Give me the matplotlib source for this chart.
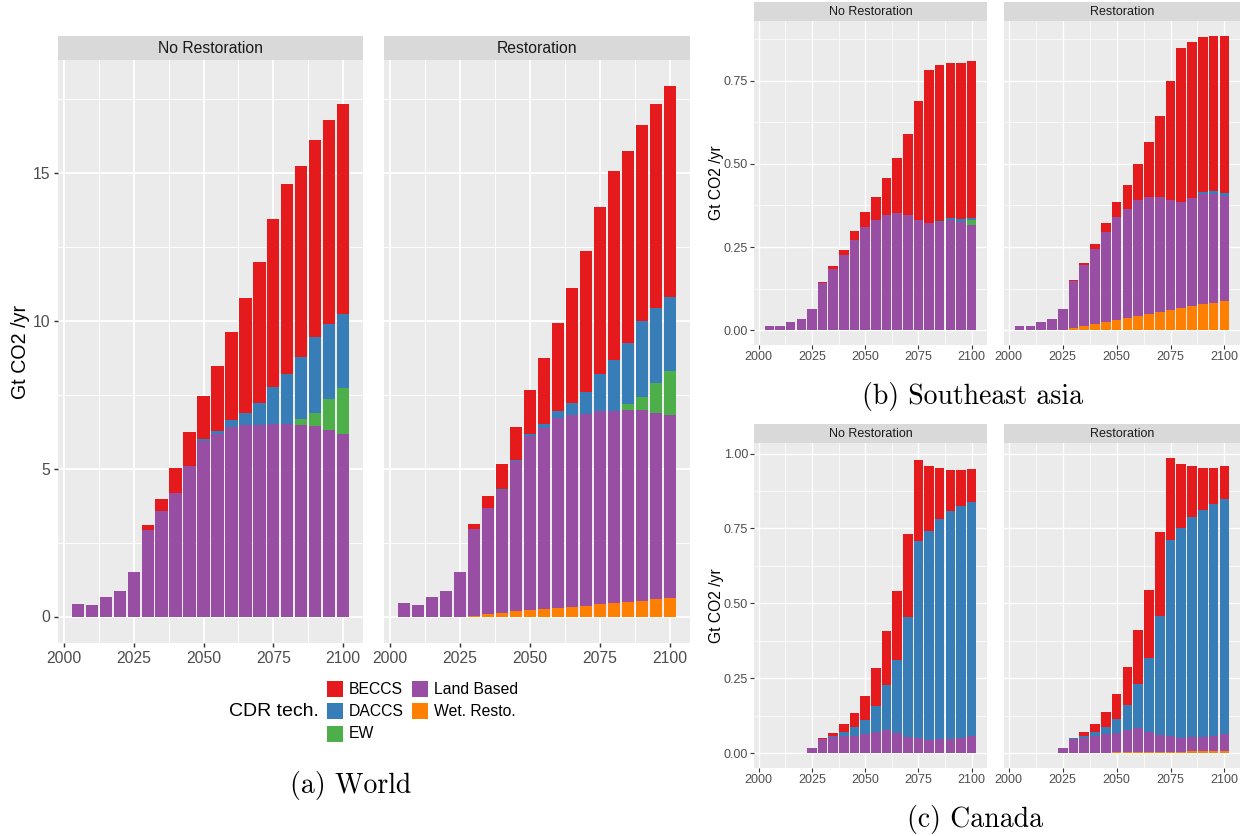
"""CDR by technology: World / Southeast asia / Canada, No Restoration vs Restoration"""
import matplotlib
matplotlib.use("Agg")
import matplotlib.pyplot as plt
import matplotlib.patches as mpatches
import numpy as np

W, H = 1244, 836
SANS = ["Liberation Sans", "DejaVu Sans"]

years = [2005, 2010, 2015, 2020, 2025, 2030, 2035, 2040, 2045, 2050,
         2055, 2060, 2065, 2070, 2075, 2080, 2085, 2090, 2095, 2100]

techs = ["BECCS", "DACCS", "EW", "Land Based", "Wet. Resto."]
tech_colors = ["#E41A1C", "#377EB8", "#4DAF4A", "#984EA3", "#FF7F00"]
facets = ["No Restoration", "Restoration"]

# ── World (Gt CO2 /yr) ──
world_nr_land = [0.43, 0.40, 0.65, 0.86, 1.50, 2.93, 3.58, 4.17, 5.07, 5.93,
                 6.17, 6.41, 6.48, 6.48, 6.50, 6.50, 6.48, 6.45, 6.31, 6.17]
world_nr_ew = [0, 0, 0, 0, 0, 0, 0, 0, 0, 0,
               0, 0, 0, 0, 0, 0, 0.21, 0.44, 1.04, 1.56]
world_nr_daccs = [0, 0, 0, 0, 0, 0, 0, 0.02, 0.03, 0.06,
                  0.11, 0.22, 0.38, 0.73, 1.25, 1.70, 2.07, 2.57, 2.55, 2.49]
world_nr_beccs = [0, 0, 0, 0, 0, 0.15, 0.38, 0.84, 1.14, 1.45,
                  2.17, 3.00, 3.90, 4.77, 5.68, 6.40, 6.47, 6.63, 6.87, 7.11]
world_nr_wet = [0] * 20

world_r_wet = [0, 0, 0, 0, 0, 0.03, 0.08, 0.11, 0.17, 0.21,
               0.25, 0.29, 0.33, 0.37, 0.41, 0.46, 0.50, 0.54, 0.58, 0.61]
world_r_land = [0.44, 0.40, 0.65, 0.86, 1.50, 2.94, 3.57, 4.17, 5.08, 5.89,
                6.13, 6.41, 6.47, 6.48, 6.52, 6.50, 6.48, 6.44, 6.28, 6.19]
world_r_ew = [0, 0, 0, 0, 0, 0, 0, 0, 0, 0,
              0, 0, 0, 0, 0, 0, 0.19, 0.44, 1.04, 1.51]
world_r_daccs = [0, 0, 0, 0, 0, 0, 0, 0.02, 0.03, 0.07,
                 0.14, 0.23, 0.41, 0.73, 1.25, 1.70, 2.07, 2.57, 2.54, 2.49]
world_r_beccs = [0, 0, 0, 0, 0, 0.16, 0.41, 0.84, 1.14, 1.50,
                 2.20, 3.00, 3.88, 4.77, 5.67, 6.41, 6.49, 6.63, 6.89, 7.11]

# ── Southeast asia ──
sea_nr_land = [0.014, 0.013, 0.024, 0.033, 0.063, 0.142, 0.185, 0.227, 0.271, 0.310,
               0.330, 0.347, 0.353, 0.346, 0.332, 0.321, 0.326, 0.330, 0.324, 0.315]
sea_nr_ew = [0] * 19 + [0.015]
sea_nr_daccs = [0] * 16 + [0.002, 0.008, 0.009, 0.006]
sea_nr_beccs = [0, 0, 0, 0, 0, 0.003, 0.007, 0.015, 0.026, 0.045,
                0.070, 0.111, 0.165, 0.245, 0.357, 0.461, 0.468, 0.465, 0.469, 0.473]
sea_nr_wet = [0] * 20

sea_r_wet = [0, 0, 0, 0, 0, 0.006, 0.012, 0.018, 0.024, 0.030,
             0.036, 0.042, 0.048, 0.054, 0.060, 0.066, 0.072, 0.078, 0.083, 0.089]
sea_r_land = [0.014, 0.013, 0.024, 0.033, 0.063, 0.142, 0.184, 0.227, 0.270, 0.309,
              0.329, 0.348, 0.351, 0.346, 0.332, 0.320, 0.324, 0.330, 0.325, 0.315]
sea_r_ew = [0] * 20
sea_r_daccs = [0] * 17 + [0.008, 0.009, 0.008]
sea_r_beccs = [0, 0, 0, 0, 0, 0.003, 0.007, 0.015, 0.028, 0.046,
               0.072, 0.110, 0.167, 0.244, 0.357, 0.461, 0.471, 0.464, 0.468, 0.472]

# ── Canada ──
can_nr_land = [0, 0, 0, 0.002, 0.018, 0.047, 0.053, 0.057, 0.059, 0.064,
               0.071, 0.079, 0.068, 0.053, 0.051, 0.044, 0.047, 0.046, 0.051, 0.057]
can_nr_ew = [0] * 20
can_nr_daccs = [0, 0, 0, 0, 0, 0.002, 0.005, 0.013, 0.028, 0.048,
                0.086, 0.148, 0.243, 0.401, 0.656, 0.699, 0.736, 0.761, 0.775, 0.783]
can_nr_beccs = [0, 0, 0, 0, 0, 0.002, 0.011, 0.026, 0.046, 0.080,
                0.129, 0.180, 0.230, 0.278, 0.273, 0.216, 0.169, 0.137, 0.118, 0.109]
can_nr_wet = [0] * 20

can_r_wet = [0, 0, 0, 0, 0, 0, 0.001, 0.002, 0.002, 0.003,
             0.003, 0.004, 0.004, 0.005, 0.005, 0.005, 0.006, 0.006, 0.007, 0.008]
can_r_land = [0, 0, 0, 0.002, 0.018, 0.048, 0.051, 0.057, 0.061, 0.064,
              0.073, 0.080, 0.068, 0.055, 0.053, 0.045, 0.048, 0.047, 0.051, 0.056]
can_r_ew = [0] * 20
can_r_daccs = [0, 0, 0, 0, 0, 0.002, 0.005, 0.012, 0.026, 0.046,
               0.084, 0.146, 0.245, 0.399, 0.655, 0.700, 0.735, 0.760, 0.775, 0.784]
can_r_beccs = [0, 0, 0, 0, 0, 0.001, 0.013, 0.027, 0.047, 0.083,
               0.129, 0.180, 0.229, 0.279, 0.273, 0.216, 0.171, 0.138, 0.118, 0.109]

world = [[world_nr_beccs, world_nr_daccs, world_nr_ew, world_nr_land, world_nr_wet],
         [world_r_beccs, world_r_daccs, world_r_ew, world_r_land, world_r_wet]]
sea = [[sea_nr_beccs, sea_nr_daccs, sea_nr_ew, sea_nr_land, sea_nr_wet],
       [sea_r_beccs, sea_r_daccs, sea_r_ew, sea_r_land, sea_r_wet]]
canada = [[can_nr_beccs, can_nr_daccs, can_nr_ew, can_nr_land, can_nr_wet],
          [can_r_beccs, can_r_daccs, can_r_ew, can_r_land, can_r_wet]]


def px(x0, y0, x1, y1):
    return [x0 / W, 1 - y1 / H, (x1 - x0) / W, (y1 - y0) / H]


def region(fig, data, cols, top, strip_top, bottom, yticks, ylabels, fs, lw, ylabel_x):
    # 공통 y 범위 (ggplot 5% 확장)
    totals = [np.sum(np.array(d, dtype=float), axis=0).max() for d in data]
    ymax = max(totals)
    ylim = (-0.05 * ymax, 1.05 * ymax)
    xlim = (2002.75 - 0.05 * 99.5, 2102.25 + 0.05 * 99.5)

    for fi, (x0, x1) in enumerate(cols):
        ax = fig.add_axes(px(x0, top, x1, bottom), facecolor="#EBEBEB")
        base = np.zeros(len(years))
        for ti in range(len(techs) - 1, -1, -1):
            vals = np.array(data[fi][ti], dtype=float)
            ax.bar(years, vals, width=4.5, bottom=base, color=tech_colors[ti], linewidth=0, zorder=3)
            base += vals
        ax.set_xlim(*xlim)
        ax.set_ylim(*ylim)
        for s in ax.spines.values():
            s.set_visible(False)
        ax.set_xticks([2000, 2025, 2050, 2075, 2100])
        ax.set_xticks([2012.5, 2037.5, 2062.5, 2087.5], minor=True)
        ax.set_yticks(yticks)
        ax.set_yticks([(a + b) / 2 for a, b in zip(yticks[:-1], yticks[1:])] + [yticks[-1] + (yticks[1] - yticks[0]) / 2], minor=True)
        ax.set_ylim(*ylim)
        ax.grid(which="major", color="white", lw=lw, zorder=0)
        ax.grid(which="minor", color="white", lw=lw / 2, zorder=0)
        ax.set_axisbelow(True)
        ax.tick_params(which="minor", length=0)
        ax.tick_params(which="major", color="#333333", length=fs * 0.28, width=lw * 0.8,
                       labelcolor="#4D4D4D", labelsize=fs, pad=fs * 0.2)
        ax.set_xticklabels(["2000", "2025", "2050", "2075", "2100"], family=SANS)
        if fi == 0:
            ax.set_yticklabels(ylabels, family=SANS)
        else:
            ax.tick_params(axis="y", left=False, labelleft=False)

        # strip
        sax = fig.add_axes(px(x0, strip_top, x1, top), facecolor="#D9D9D9")
        sax.set_xticks([]); sax.set_yticks([])
        for s in sax.spines.values():
            s.set_visible(False)
        sax.text(0.5, 0.48, facets[fi], transform=sax.transAxes, ha="center", va="center",
                 fontsize=fs, color="#1A1A1A", family=SANS)

    fig.text(ylabel_x / W, 1 - (top + bottom) / 2 / H, "Gt CO2 /yr", rotation=90,
             ha="center", va="center", fontsize=fs * 1.25, color="black", family=SANS)


fig = plt.figure(figsize=(W / 100, H / 100), dpi=100, facecolor="white")

# (a) World
region(fig, world, [(58, 363), (384, 690)], 60, 36, 643,
       [0, 5, 10, 15], ["0", "5", "10", "15"], 11.3, 1.3, 21)
# (b) Southeast asia
region(fig, sea, [(754, 987), (1004, 1240)], 21, 2, 345,
       [0, 0.25, 0.5, 0.75], ["0.00", "0.25", "0.50", "0.75"], 9.0, 1.0, 716)
# (c) Canada
region(fig, canada, [(754, 987), (1004, 1240)], 443, 424, 768,
       [0, 0.25, 0.5, 0.75, 1.0], ["0.00", "0.25", "0.50", "0.75", "1.00"], 9.0, 1.0, 716)

# legend
fig.text(319 / W, 1 - 712 / H, "CDR tech.", ha="right", va="center", fontsize=14, family=SANS)
key_pos = [(327, 681), (327, 703), (327, 726), (412, 681), (412, 703)]
for (kx, ky), name, col in zip(key_pos, techs, tech_colors):
    fig.patches.append(mpatches.Rectangle((kx / W, 1 - (ky + 16) / H), 16 / W, 16 / H,
                                          transform=fig.transFigure, facecolor=col,
                                          edgecolor="none", figure=fig))
    fig.text((kx + 22) / W, 1 - (ky + 8) / H, name, ha="left", va="center",
             fontsize=11.3, family=SANS)

# captions
fig.text(351 / W, 1 - 786 / H, "(a) World", ha="center", va="center", fontsize=20, family="cmr10")
fig.text(973 / W, 1 - 397 / H, "(b) Southeast asia", ha="center", va="center", fontsize=20, family="cmr10")
fig.text(975 / W, 1 - 819 / H, "(c) Canada", ha="center", va="center", fontsize=20, family="cmr10")

fig.savefig("out.png", dpi=100, facecolor="white")
